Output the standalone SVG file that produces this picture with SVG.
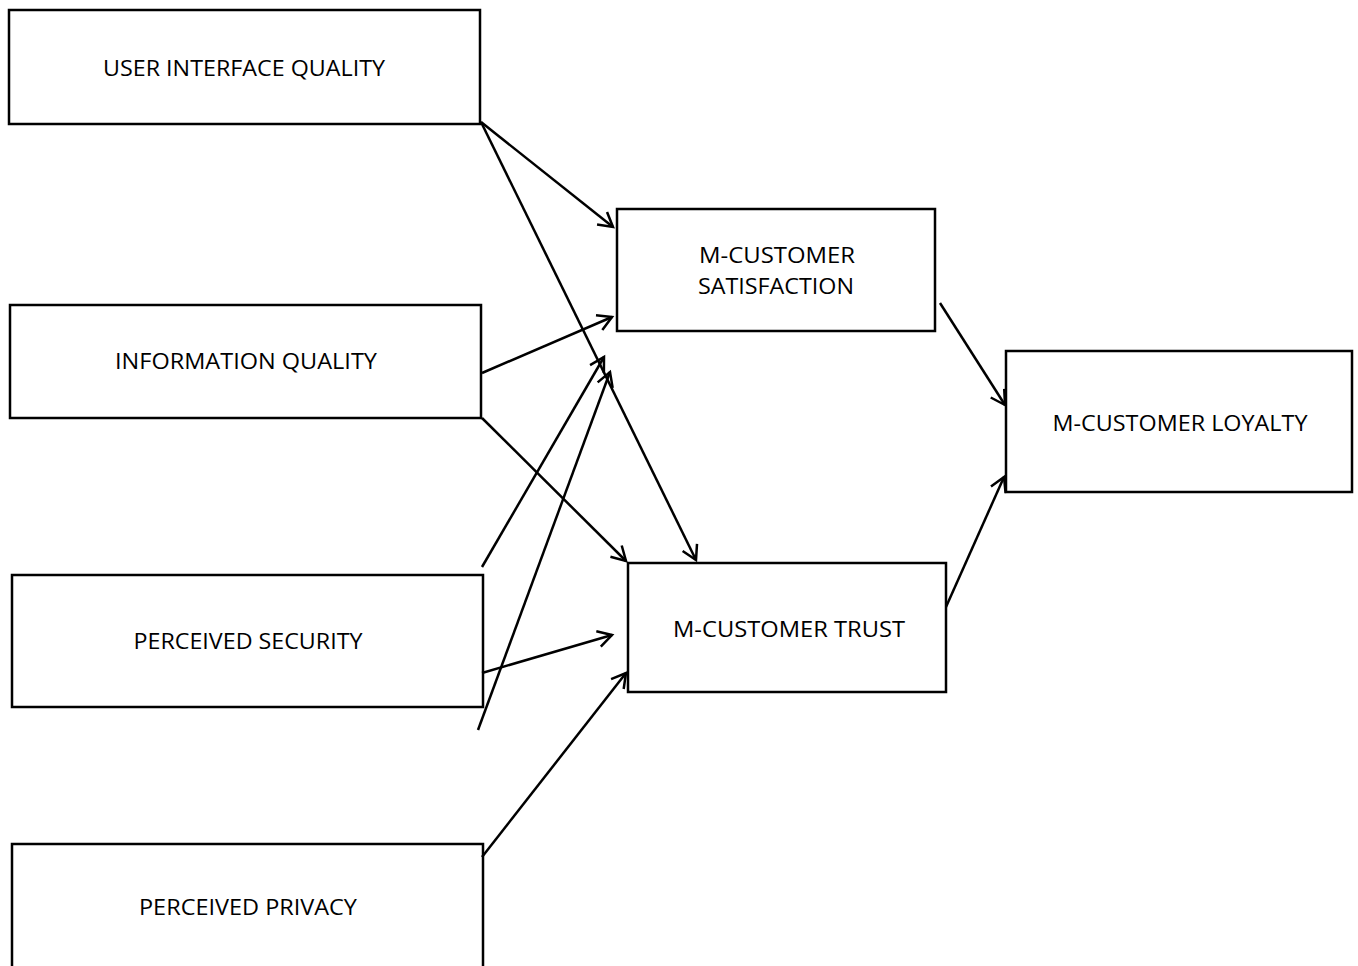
<svg xmlns="http://www.w3.org/2000/svg" width="1358" height="966" viewBox="0 0 1358 966">
<style>
.box{fill:#fff;stroke:#000;stroke-width:2.5}
.lbl{font-family:"Open Sans","Liberation Sans",Arial,sans-serif;font-size:21px;fill:#000;text-anchor:middle;dominant-baseline:central}
.conn line{stroke:#000;stroke-width:2.5;fill:none;marker-end:url(#arr)}
</style>
<defs>
<marker id="arr" markerUnits="userSpaceOnUse" markerWidth="36" markerHeight="36" refX="18" refY="18" orient="auto" viewBox="0 0 36 36">
<path d="M4,10 L18,18 L4,26" fill="none" stroke="#000" stroke-width="2.5"/>
</marker>
</defs>
<rect width="1358" height="966" fill="#fff"/>
<g id="uiq"><rect class="box" x="9" y="10" width="471" height="114"/><text class="lbl" x="244" y="68" textLength="282" lengthAdjust="spacingAndGlyphs">USER INTERFACE QUALITY</text></g>
<g id="iq"><rect class="box" x="10" y="305" width="471" height="113"/><text class="lbl" x="246" y="361" textLength="262" lengthAdjust="spacingAndGlyphs">INFORMATION QUALITY</text></g>
<g id="ps"><rect class="box" x="12" y="575" width="471" height="132"/><text class="lbl" x="248" y="641" textLength="229" lengthAdjust="spacingAndGlyphs">PERCEIVED SECURITY</text></g>
<g id="pp"><rect class="box" x="12" y="844" width="471" height="130"/><text class="lbl" x="248" y="907" textLength="218" lengthAdjust="spacingAndGlyphs">PERCEIVED PRIVACY</text></g>
<g id="sat"><rect class="box" x="617" y="209" width="318" height="122"/><text class="lbl" x="777" y="255" textLength="156" lengthAdjust="spacingAndGlyphs">M-CUSTOMER</text><text class="lbl" x="776" y="286" textLength="156" lengthAdjust="spacingAndGlyphs">SATISFACTION</text></g>
<g id="trust"><rect class="box" x="628" y="563" width="318" height="129"/><text class="lbl" x="789" y="629" textLength="232" lengthAdjust="spacingAndGlyphs">M-CUSTOMER TRUST</text></g>
<g id="loy"><rect class="box" x="1006" y="351" width="346" height="141"/><text class="lbl" x="1180" y="423" textLength="255" lengthAdjust="spacingAndGlyphs">M-CUSTOMER LOYALTY</text></g>
<g id="connectors" class="conn">
<line x1="481" y1="122" x2="613" y2="227"/>
<line x1="481" y1="122" x2="696" y2="560"/>
<line x1="482" y1="373" x2="612" y2="317"/>
<line x1="482" y1="418" x2="626" y2="561"/>
<line x1="482" y1="567" x2="604" y2="357"/>
<line x1="478" y1="730" x2="610" y2="372"/>
<line x1="482" y1="673" x2="612" y2="635"/>
<line x1="482" y1="857" x2="626" y2="673"/>
<line x1="940" y1="303" x2="1005" y2="405"/>
<line x1="946" y1="607" x2="1004" y2="477"/>
</g>
</svg>
